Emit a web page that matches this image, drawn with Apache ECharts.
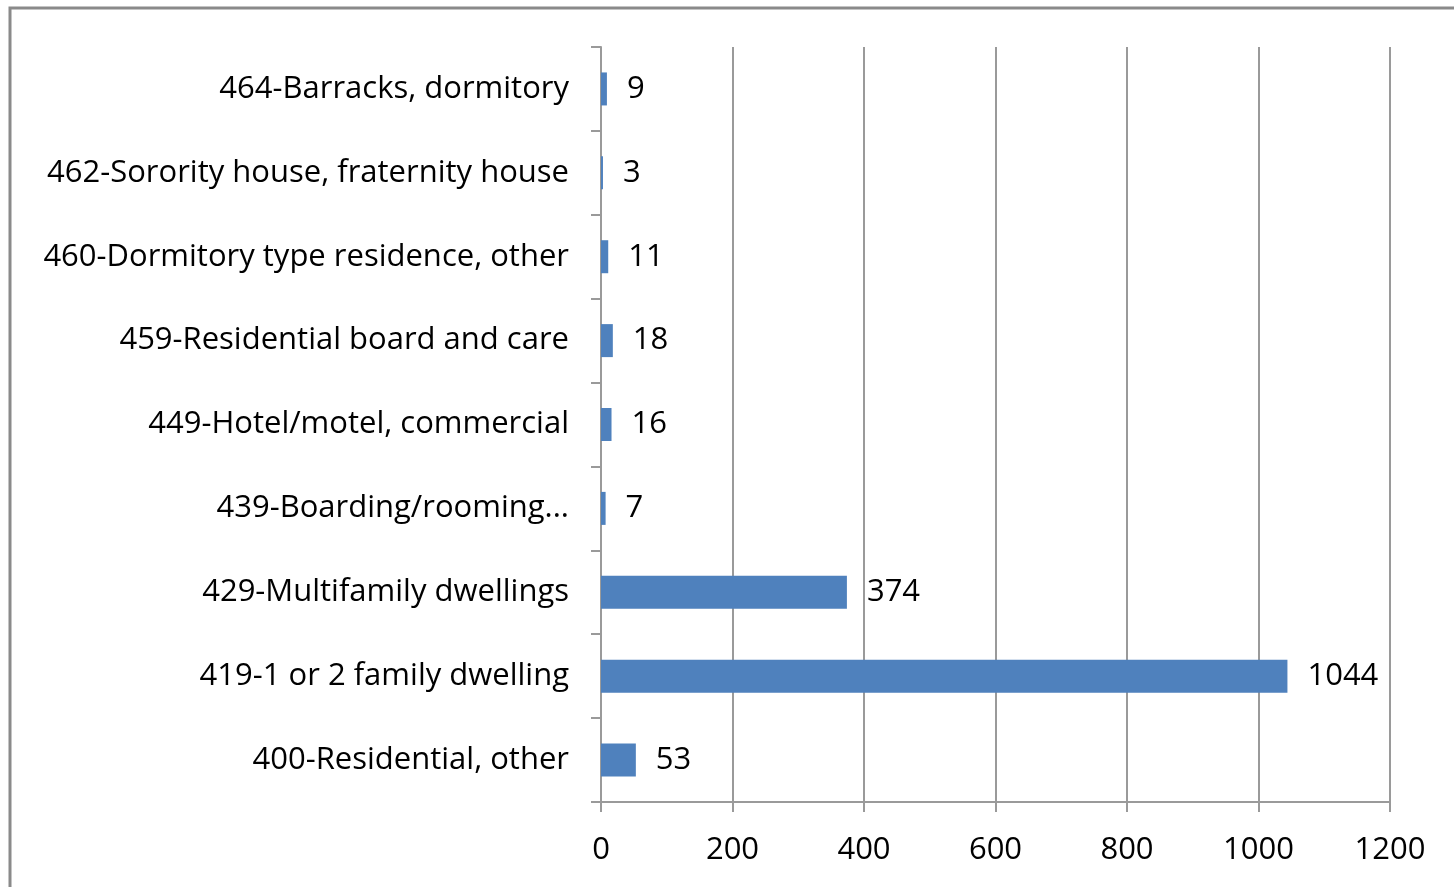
<!DOCTYPE html>
<html><head><meta charset="utf-8">
<script src="https://cdn.jsdelivr.net/npm/echarts@6/dist/echarts.min.js"></script>
<style>html,body{margin:0;padding:0;background:#fff}#c{width:1454px;height:887px}</style>
</head><body><div id="c"></div>
<script>
const categories = ["400-Residential, other","419-1 or 2 family dwelling","429-Multifamily dwellings","439-Boarding/rooming...","449-Hotel/motel, commercial","459-Residential board and care","460-Dormitory type residence, other","462-Sorority house, fraternity house","464-Barracks, dormitory"];
const values = [53,1044,374,7,16,18,11,3,9];
const xTicks = [0,200,400,600,800,1000,1200];
const FONT = 'Open Sans';
const FS = 31;
const chart = echarts.init(document.getElementById('c'));
chart.setOption({
  animation:false,
  backgroundColor:'#fff',
  graphic:[{type:'rect',shape:{x:10,y:8,width:1460,height:900},style:{fill:'none',stroke:'#8a8a8a',lineWidth:3}}],
  grid:{left:601,right:64,top:47,bottom:85,containLabel:false},
  xAxis:{type:'value',min:xTicks[0],max:xTicks[xTicks.length-1],interval:200,
    axisLine:{show:true,lineStyle:{color:'#9a9a9a',width:2}},
    axisTick:{show:true,length:10,lineStyle:{color:'#9a9a9a',width:2}},
    axisLabel:{color:'#000',fontSize:FS,fontFamily:FONT,margin:33,formatter:v=>String(v)},
    splitLine:{show:true,lineStyle:{color:'#9a9a9a',width:2}}},
  yAxis:{type:'category',data:categories,
    axisLine:{show:true,lineStyle:{color:'#9a9a9a',width:2}},
    axisTick:{show:true,length:10,lineStyle:{color:'#9a9a9a',width:2}},
    axisLabel:{color:'#000',fontSize:FS,fontFamily:FONT,margin:32,padding:[6,0,0,0]}},
  series:[{type:'bar',data:values,barWidth:33,itemStyle:{color:'#4f81bd'},
    label:{show:true,position:'right',distance:20,color:'#000',fontSize:FS,fontFamily:FONT,padding:[6,0,0,0]}}]
});
</script></body></html>
